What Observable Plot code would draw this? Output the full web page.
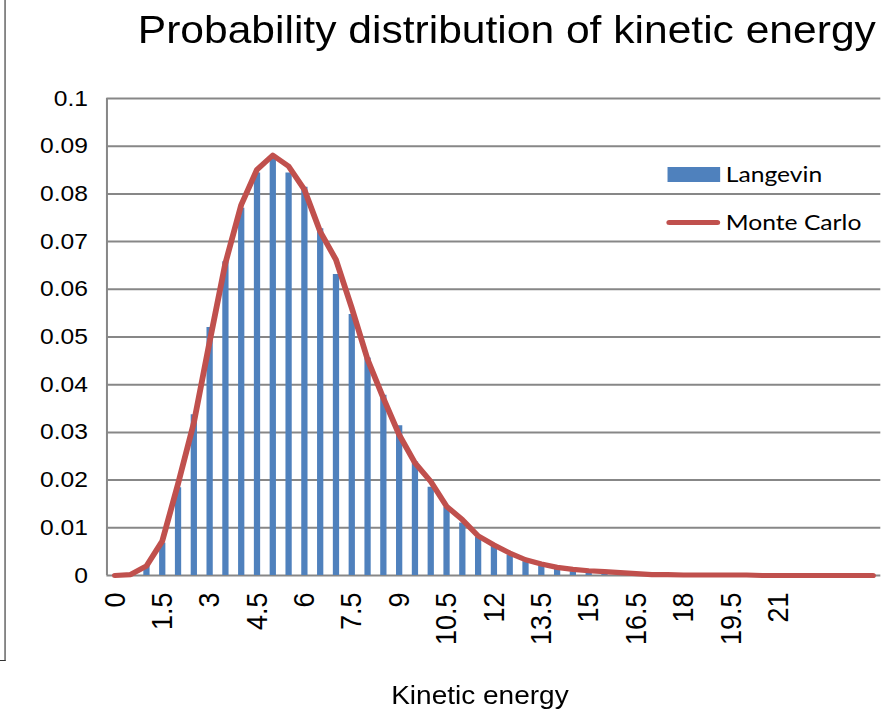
<!DOCTYPE html>
<html><head><meta charset="utf-8">
<script src="https://cdn.jsdelivr.net/npm/d3@7"></script>
<script src="https://cdn.jsdelivr.net/npm/@observablehq/plot@0.6"></script>
<style>
html,body{margin:0;padding:0;background:#fff;overflow:hidden;}
#wrap{position:relative;width:796px;height:716px;transform:scaleX(1.12);transform-origin:0 0;font-family:"Liberation Sans",Arial,sans-serif;color:#000;}
#title{position:absolute;left:0;top:10px;width:905px;text-align:center;font-size:38px;line-height:40px;white-space:nowrap;}
#chart{position:absolute;left:0;top:60px;}
#xtitle{position:absolute;left:0;top:682px;width:857px;text-align:center;font-size:25px;line-height:27px;white-space:nowrap;}
.leg{position:absolute;font-family:Lato,"Open Sans",sans-serif;font-size:22px;line-height:24px;white-space:nowrap;}
#frame{position:absolute;left:0;top:0;width:4px;height:660px;border-right:1.5px solid #333;border-bottom:1.5px solid #333;z-index:5;}
</style></head>
<body>
<div id="wrap">
  <div id="title">Probability distribution of kinetic energy</div>
  <div id="chart"></div>
  <div id="frame"></div>
  <div id="xtitle">Kinetic energy</div>
  <div style="position:absolute;left:596.4px;top:167px;width:46.4px;height:15px;background:#4f81bd"></div>
  <div class="leg" style="left:648px;top:162px">Langevin</div>
  <div style="position:absolute;left:595px;top:219.5px;width:48px;height:5px;border-radius:2.5px;background:#c0504d"></div>
  <div class="leg" style="left:648px;top:210px">Monte Carlo</div>
</div>
<script>
const energy = [0,0.5,1,1.5,2,2.5,3,3.5,4,4.5,5,5.5,6,6.5,7,7.5,8,8.5,9,9.5,10,10.5,11,11.5,12,12.5,13,13.5,14,14.5,15,15.5,16,16.5,17,17.5,18,18.5,19,19.5,20,20.5,21,21.5,22,22.5,23,23.5,24];
const langevin = [0,0,0.002,0.0068,0.0184,0.0337,0.052,0.0658,0.077,0.0844,0.0872,0.0844,0.0814,0.0727,0.0631,0.0547,0.0456,0.0378,0.0314,0.0238,0.0185,0.0143,0.011,0.008,0.0061,0.0043,0.0029,0.002,0.0013,0.0008,0.0005,0.0003,0.0002,0.0001,0,0,0,0,0,0,0,0,0,0,0,0,0,0,0];
const monteCarlo = [0,0.0002,0.002,0.0072,0.0192,0.032,0.049,0.0655,0.0777,0.0851,0.0881,0.0858,0.0809,0.0721,0.0662,0.0561,0.0453,0.0372,0.0295,0.0236,0.0197,0.0145,0.0117,0.0083,0.0064,0.0047,0.0033,0.0024,0.0017,0.0013,0.001,0.0008,0.0006,0.0004,0.0002,0.0002,0.0001,0.0001,0.0001,0.0001,0.0001,0,0,0,0,0,0,0,0];
const xTicks = [0,1.5,3,4.5,6,7.5,9,10.5,12,13.5,15,16.5,18,19.5,21];
const yTicks = [0,0.01,0.02,0.03,0.04,0.05,0.06,0.07,0.08,0.09,0.1];
const xDomain = [-0.25, 24.25];
const yDomain = [0, 0.1];

const data = energy.map((e, i) => ({e, lang: langevin[i], mc: monteCarlo[i]}));

const chart = Plot.plot({
  width: 796, height: 610,
  marginLeft: 95, marginRight: 10, marginTop: 38, marginBottom: 95,
  style: {fontFamily: '"Liberation Sans", Arial, sans-serif', color: "#000", background: "#fff", overflow: "visible"},
  x: {domain: xDomain},
  y: {domain: yDomain},
  marks: [
    Plot.gridY(yTicks, {stroke: "#878787", strokeOpacity: 1, strokeWidth: 2}),
    Plot.ruleX([xDomain[0]], {stroke: "#878787", strokeWidth: 1.8}),
    Plot.axisY(yTicks, {tickSize: 0, tickPadding: 17, fontSize: 22, tickFormat: d => String(+d.toFixed(2)), label: null}),
    Plot.axisX(xTicks, {tickSize: 0, tickPadding: 17, tickRotate: -90, fontSize: 27, label: null, tickFormat: d => String(d)}),
    Plot.ruleX(data, {x: "e", y1: 0, y2: "lang", stroke: "#4f81bd", strokeWidth: 5.6}),
    Plot.line(data, {x: "e", y: "mc", stroke: "#c0504d", strokeWidth: 5.2, strokeLinejoin: "round", strokeLinecap: "round"})
  ]
});
document.getElementById("chart").appendChild(chart);
</script>
</body></html>
